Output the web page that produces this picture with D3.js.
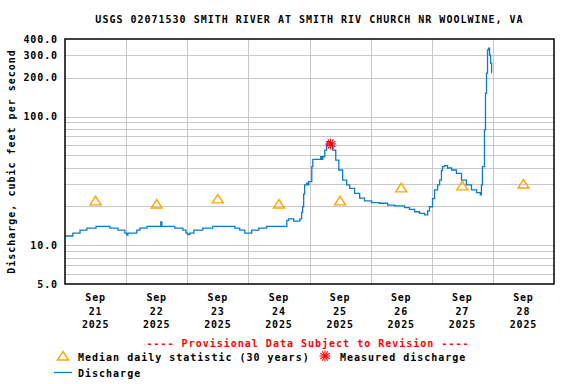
<!DOCTYPE html>
<html>
<head>
<meta charset="utf-8">
<script src="https://cdn.jsdelivr.net/npm/d3@7"></script>
<style>
  body { margin: 0; background: #fff; }
  text { font-family: "DejaVu Sans Mono", "Liberation Mono", monospace; font-weight: bold; }
</style>
</head>
<body>
<div class="canvas"></div>
<script>
// data
const title = 'USGS 02071530 SMITH RIVER AT SMITH RIV CHURCH NR WOOLWINE, VA';
const dayLabels = ['21', '22', '23', '24', '25', '26', '27', '28'];
const yTickValues = [5, 10, 100, 200, 300, 400];
const yGridValues = [6, 7, 8, 9, 10, 20, 30, 40, 50, 60, 70, 80, 90, 100, 200, 300];

// hours since Sep 21 00:00 and discharge in cfs
const hours = [0, 3.1, 5.9, 8.6, 12.2, 17.6, 20.8, 23.5, 24.3, 24.7, 28.2, 29.4, 32.2, 37.6, 38.0, 43.1,
  46.3, 47.5, 48.2, 49.0, 50.6, 54.1, 58.0, 66.7, 68.6, 70.6, 73.3, 76.1, 79.2, 87.1, 87.8, 89.8,
  92.2, 92.9, 93.3, 93.7, 94.1, 94.9, 95.3, 95.7, 96.9, 97.3, 100.4, 100.8, 101.2, 102.0, 102.7,
  103.1, 103.9, 105.1, 106.3, 107.5, 109.0, 110.6, 111.8, 113.7, 115.7, 117.6, 120.4, 123.5, 126.7,
  129.4, 133.3, 135.3, 137.3, 139.2, 141.2, 142.4, 143.1, 144.3, 145.1, 146.3, 147.1, 147.8, 148.2,
  149.0, 150.2, 151.8, 153.7, 155.7, 157.6, 159.6, 161.6, 163.1, 163.5, 163.9, 164.7, 165.1, 165.5,
  165.9, 166.3, 166.7, 167.1, 167.5];
const cfs = [11.8, 12.4, 13.1, 13.6, 14.0, 13.6, 13.1, 12.4, 12.0, 12.4, 13.1, 13.6, 14.0, 15.2, 14.0, 13.6,
  13.1, 12.4, 12.1, 12.4, 13.1, 13.6, 14.0, 13.6, 13.1, 12.4, 13.1, 13.6, 14.0, 15.6, 16.0, 15.4,
  16.0, 18.0, 19.9, 25.0, 29.4, 30.3, 29.4, 31.2, 40.8, 46.5, 48.7, 46.5, 48.7, 54.9, 60.1,
  63.7, 62.0, 54.9, 45.9, 38.4, 32.1, 29.4, 27.7, 25.3, 23.2, 22.1, 21.4, 21.2, 20.5,
  20.2, 19.6, 19.0, 18.2, 17.7, 17.2, 18.5, 19.9, 23.0, 26.9, 29.4, 32.1, 38.0, 40.8,
  41.5, 39.8, 38.4, 36.2, 32.1, 29.4, 26.9, 25.6, 24.6, 29.4, 40.8, 78.6, 151, 217,
  329, 339, 300, 259, 217];

// median daily statistic, one per day at noon
const medianCfs = [22.1, 20.9, 22.9, 20.9, 22.1, 27.9, 28.9, 29.9];

// measured discharge
const measuredHour = 104.3;
const measuredCfs = 61.2;

const W = 576, H = 384;
const m = { t: 39, r: 22, b: 100, l: 65 };
const start = new Date(2025, 8, 21);
const hourToDate = h => new Date(start.getTime() + h * 3600e3);

const x = d3.scaleTime()
  .domain([start, new Date(2025, 8, 29)])
  .range([m.l, W - m.r]);
const y = d3.scaleLog()
  .domain([5, 400])
  .range([H - m.b, m.t]);

const svg = d3.select('.canvas').append('svg')
  .attr('width', W)
  .attr('height', H);

// title
svg.append('text')
  .attr('x', (m.l + W - m.r) / 2)
  .attr('y', 23)
  .attr('text-anchor', 'middle')
  .style('font-size', '10px')
  .style('letter-spacing', '1px')
  .text(title);

// grid
const grid = svg.append('g').attr('stroke', '#c8c8c8').attr('stroke-width', 1);
grid.selectAll('.hg')
  .data(yGridValues)
  .enter()
  .append('line')
  .attr('x1', m.l).attr('x2', W - m.r)
  .attr('y1', d => Math.round(y(d)) + 0.5)
  .attr('y2', d => Math.round(y(d)) + 0.5);

const dayStarts = d3.timeDay.range(new Date(2025, 8, 22), new Date(2025, 8, 29));
grid.selectAll('.vg')
  .data(dayStarts)
  .enter()
  .append('line')
  .attr('y1', m.t).attr('y2', H - m.b)
  .attr('x1', d => Math.round(x(d)) + 0.5)
  .attr('x2', d => Math.round(x(d)) + 0.5);

// y tick labels
svg.append('g').selectAll('text')
  .data(yTickValues)
  .enter()
  .append('text')
  .attr('x', 58)
  .attr('y', d => y(d) + 3.5)
  .attr('text-anchor', 'end')
  .style('font-size', '10px')
  .style('letter-spacing', '0.9px')
  .text(d => d3.format('.1f')(d));

// y axis title
svg.append('text')
  .attr('transform', `translate(15,${(m.t + H - m.b) / 2}) rotate(-90)`)
  .attr('text-anchor', 'middle')
  .style('font-size', '10px')
  .style('letter-spacing', '1px')
  .text('Discharge, cubic feet per second');

// x tick labels at noon
const xl = svg.append('g').selectAll('g')
  .data(dayLabels)
  .enter()
  .append('g')
  .attr('transform', (d, i) => `translate(${x(hourToDate(i * 24 + 12))},0)`)
  .attr('text-anchor', 'middle')
  .style('font-size', '10px')
  .style('letter-spacing', '0.8px');
xl.append('text').attr('y', 301).text('Sep');
xl.append('text').attr('y', 315).text(d => d);
xl.append('text').attr('y', 328).text('2025');

// discharge line
const line = d3.line()
  .x(d => x(hourToDate(d[0])))
  .y(d => y(d[1]))
  .curve(d3.curveStepAfter);
svg.append('path')
  .datum(hours.map((h, i) => [h, cfs[i]]))
  .attr('d', line)
  .attr('fill', 'none')
  .attr('stroke', '#0a7ccc')
  .attr('stroke-width', 1.3);

// median triangles
function triangle(g, cx, cy) {
  g.append('path')
    .attr('d', `M${cx - 5.5},${cy + 4} L${cx},${cy - 4.5} L${cx + 5.5},${cy + 4} Z`)
    .attr('fill', 'none')
    .attr('stroke', '#ffa500')
    .attr('stroke-width', 1.4);
}
const medG = svg.append('g');
medianCfs.forEach((v, i) => triangle(medG, x(hourToDate(i * 24 + 12)), y(v)));

// measured asterisk
function asterisk(g, cx, cy) {
  const r = 5.5;
  [0, 30, 60, 90, 120, 150].forEach(a => {
    const dx = r * Math.cos(a * Math.PI / 180), dy = r * Math.sin(a * Math.PI / 180);
    g.append('line')
      .attr('x1', cx - dx).attr('y1', cy - dy)
      .attr('x2', cx + dx).attr('y2', cy + dy)
      .attr('stroke', '#ff0000')
      .attr('stroke-width', 1.1);
  });
}
asterisk(svg.append('g'), x(hourToDate(measuredHour)), y(measuredCfs));

// plot border
svg.append('rect')
  .attr('x', m.l).attr('y', m.t)
  .attr('width', W - m.r - m.l)
  .attr('height', H - m.b - m.t)
  .attr('fill', 'none')
  .attr('stroke', '#000')
  .attr('stroke-width', 1.5);

// legend
svg.append('text')
  .attr('x', 308)
  .attr('y', 346.5)
  .attr('text-anchor', 'middle')
  .attr('fill', '#ff0000')
  .style('font-size', '10px')
  .style('letter-spacing', '1px')
  .text('---- Provisional Data Subject to Revision ----');

const leg = svg.append('g').style('font-size', '10px').style('letter-spacing', '1px');
triangle(leg, 63, 356);
leg.append('text').attr('x', 78).attr('y', 360.5).text('Median daily statistic (30 years)');
asterisk(leg, 325, 356);
leg.append('text').attr('x', 340).attr('y', 360.5).text('Measured discharge');
leg.append('line')
  .attr('x1', 54).attr('x2', 72)
  .attr('y1', 372.5).attr('y2', 372.5)
  .attr('stroke', '#0a7ccc')
  .attr('stroke-width', 1.3);
leg.append('text').attr('x', 78).attr('y', 376.5).text('Discharge');
</script>
</body>
</html>
